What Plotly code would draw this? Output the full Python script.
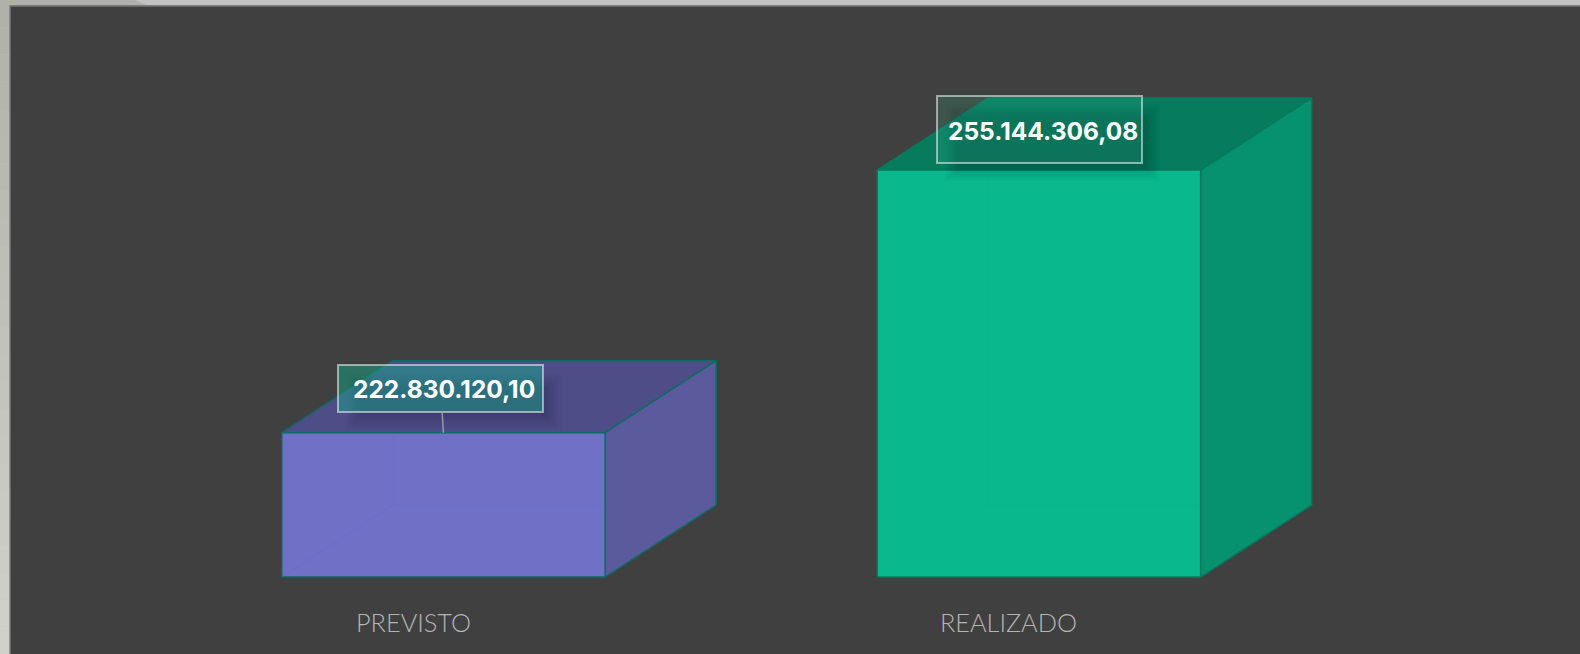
import plotly.graph_objects as go

# ---- data ----
CATEGORIES = ["PREVISTO", "REALIZADO"]
VALUES = [222830120.10, 255144306.08]
VALUE_LABELS = ["222.830.120,10", "255.144.306,08"]
AXIS_BASE = 205080000

# ---- geometry of the pseudo-3D projection (axis units) ----
BAR_WIDTH = 0.543
DEPTH_X = 0.1864
DEPTH_Y = 8857000
X_RANGE = [-0.7447, 1.9085]
Y_RANGE = [195610000, 276060000]

# ---- styles ----
FRONT = ["#6f70c6", "#09b98d"]
SIDE = ["#5a5a9c", "#06916f"]
TOP = ["#4f4d88", "#067c5d"]
EDGE = ["#0e6b62", "#067a5e"]
BACK_EDGE = ["rgba(80,110,200,0.16)", "rgba(10,170,130,0.06)"]
LABEL_FILL = ["rgba(20,175,140,0.45)", "rgba(60,190,150,0.18)"]
LABEL_OFFSET = [(-3, -44.7), (0.5, -40.5)]
LABEL_H = [45, 65]
LABEL_W = 203
ARROW = ["#9a9a9a", "rgba(0,0,0,0)"]
CLEAR = "rgba(0,0,0,0)"

fig = go.Figure()

for i, v in enumerate(VALUES):
    x0, x1 = i - BAR_WIDTH / 2, i + BAR_WIDTH / 2
    # top face
    fig.add_trace(go.Scatter(
        x=[x0, x1, x1 + DEPTH_X, x0 + DEPTH_X, x0],
        y=[v, v, v + DEPTH_Y, v + DEPTH_Y, v],
        mode="lines", fill="toself", fillcolor=TOP[i],
        line=dict(color=EDGE[i], width=1.5), hoverinfo="skip", showlegend=False))
    # side face
    fig.add_trace(go.Scatter(
        x=[x1, x1 + DEPTH_X, x1 + DEPTH_X, x1, x1],
        y=[AXIS_BASE, AXIS_BASE + DEPTH_Y, v + DEPTH_Y, v, AXIS_BASE],
        mode="lines", fill="toself", fillcolor=SIDE[i],
        line=dict(color=EDGE[i], width=1.5), hoverinfo="skip", showlegend=False))
    # front face
    fig.add_trace(go.Scatter(
        x=[x0, x1, x1, x0, x0],
        y=[AXIS_BASE, AXIS_BASE, v, v, AXIS_BASE],
        mode="lines", fill="toself", fillcolor=FRONT[i],
        line=dict(color=EDGE[i], width=1.5), hoverinfo="skip", showlegend=False))
    # hidden edges, faintly visible through the front
    fig.add_trace(go.Scatter(
        x=[x0, x0 + DEPTH_X, x1, None, x0 + DEPTH_X, x0 + DEPTH_X],
        y=[AXIS_BASE, AXIS_BASE + DEPTH_Y, AXIS_BASE + DEPTH_Y, None, AXIS_BASE + DEPTH_Y, v],
        mode="lines", line=dict(color=BACK_EDGE[i], width=1),
        hoverinfo="skip", showlegend=False))

annotations = []
for i, v in enumerate(VALUES):
    ax, ay = LABEL_OFFSET[i]
    # soft drop shadow, offset down and to the right of the label
    for grow in [10, 6, 2, -2, -6, -10, -14, -18]:
        annotations.append(dict(
            x=i, y=v, xref="x", yref="y", text=" ", showarrow=True, arrowcolor=CLEAR,
            axref="pixel", ayref="pixel", ax=ax + 13, ay=ay + 13,
            width=LABEL_W + 2 + grow, height=LABEL_H[i] + 2 + grow,
            bgcolor="rgba(0,0,0,0.018)", borderwidth=0, borderpad=0))
    # label box
    annotations.append(dict(
        x=i, y=v, xref="x", yref="y", text=" ",
        showarrow=True, arrowhead=0, arrowwidth=1.5, arrowcolor=ARROW[i],
        axref="pixel", ayref="pixel", ax=ax, ay=ay,
        width=LABEL_W, height=LABEL_H[i],
        bgcolor=LABEL_FILL[i], bordercolor="rgba(225,235,235,0.6)", borderwidth=2, borderpad=0))
    # label text
    annotations.append(dict(
        x=i, y=v, xref="x", yref="y", text=f"<b>{VALUE_LABELS[i]}</b>",
        showarrow=True, arrowcolor=CLEAR,
        axref="pixel", ayref="pixel", ax=ax + 4, ay=ay + 1,
        font=dict(family="Inter", size=24.5, color="#ffffff")))
    # category label
    annotations.append(dict(
        x=i, y=AXIS_BASE, xref="x", yref="y", text=CATEGORIES[i], showarrow=False,
        xshift=-30, yshift=-45, font=dict(family="Lato", size=25.3, color="#b4b4b4", weight=300)))

shapes = [dict(type="rect", xref="paper", yref="paper", x0=0, x1=1, y0=0, y1=1,
               fillcolor="#c3c3c3", line_width=0, layer="below"),
          dict(type="path", xref="paper", yref="paper",
               path="M 0 1 L 0.0854 1 L 0.0925 0.9925 L 0 0.9925 Z",
               fillcolor="#b0b1a8", line_width=0, layer="below")]
BANDS = 24
for k in range(BANDS):
    f = k / (BANDS - 1)
    r = round(208 - f * 32)
    g = round(209 - f * 32)
    b = round(204 - f * 36)
    shapes.append(dict(type="rect", xref="paper", yref="paper", x0=0, x1=0.007,
                       y0=k / BANDS, y1=(k + 1) / BANDS, fillcolor=f"rgb({r},{g},{b})",
                       line_width=0, layer="below"))
shapes.append(dict(type="rect", xref="paper", yref="paper", x0=0.0059, x1=1, y0=0, y1=0.9925,
                   fillcolor="#797979", line_width=0, layer="below"))
shapes.append(dict(type="rect", xref="paper", yref="paper", x0=0.0068, x1=1, y0=0, y1=0.9895,
                   fillcolor="#404040", line_width=0, layer="below"))

fig.update_layout(
    width=1580, height=654, margin=dict(l=0, r=0, t=0, b=0),
    paper_bgcolor="#404040", plot_bgcolor="rgba(0,0,0,0)",
    showlegend=False, shapes=shapes, annotations=annotations,
    xaxis=dict(range=X_RANGE, visible=False, fixedrange=True),
    yaxis=dict(range=Y_RANGE, visible=False, fixedrange=True),
)
fig.write_html("out.html", config=dict(displayModeBar=False),
               post_script="document.body.style.margin='0';document.body.style.overflow='hidden';")
